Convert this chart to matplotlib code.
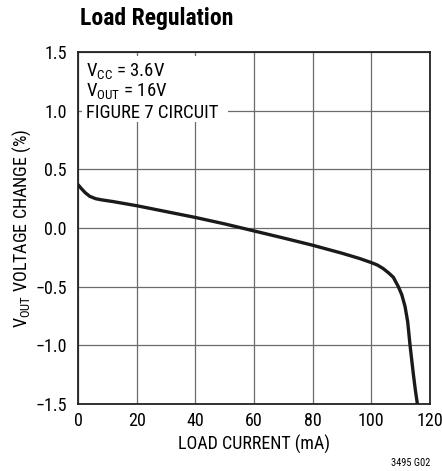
import matplotlib.pyplot as plt

# curve
load_ma = [0, 1, 2.5, 4, 6, 8, 12, 20, 30, 40, 50, 60, 70, 80, 90, 96, 100, 102, 104,
           106, 107.5, 109.2, 110.4, 111.5, 112.4, 113.2, 114.3, 115.0, 115.7]
vout_change = [0.37, 0.34, 0.30, 0.27, 0.25, 0.24, 0.225, 0.19, 0.14, 0.09, 0.035,
               -0.025, -0.085, -0.147, -0.215, -0.26, -0.295, -0.315, -0.345,
               -0.385, -0.42, -0.5, -0.57, -0.67, -0.8, -1.0, -1.24, -1.38, -1.5]

xticks = [0, 20, 40, 60, 80, 100, 120]
yticks = [-1.5, -1.0, -0.5, 0.0, 0.5, 1.0, 1.5]
ytick_labels = ['\u22121.5', '\u22121.0', '\u22120.5', '0.0', '0.5', '1.0', '1.5']
notes = ['V$_{\\mathregular{CC}}$ = 3.6V', 'V$_{\\mathregular{OUT}}$ = 16V', 'FIGURE 7 CIRCUIT']

plt.rcParams['font.family'] = ['Roboto Condensed', 'DejaVu Sans']

W, H = 442, 471
fig = plt.figure(figsize=(W / 100, H / 100), dpi=100)
ax = fig.add_axes([78 / W, 1 - 404 / H, 352 / W, 352 / H])

ax.plot(load_ma, vout_change, color='#1a1a1a', linewidth=2.4, solid_capstyle='butt', zorder=3)

ax.set_xlim(0, 120)
ax.set_ylim(-1.5, 1.5)
ax.set_xticks(xticks)
ax.set_yticks(yticks)
ax.set_yticklabels(ytick_labels)
ax.tick_params(length=0, labelsize=13)
ax.tick_params(axis='y', pad=8)
ax.tick_params(axis='x', pad=6)
ax.grid(True, color='#6a6a6a', linewidth=0.9)
ax.set_axisbelow(True)
for s in ax.spines.values():
    s.set_linewidth(1.3)
    s.set_color('#222222')

ax.set_xlabel('LOAD CURRENT (mA)', fontsize=13, labelpad=3)
ax.set_ylabel('V$_{\\mathregular{OUT}}$ VOLTAGE CHANGE (%)', fontsize=13, labelpad=2)

# white patch behind the notes hides the grid there
ax.axvspan(1.5, 51, ymin=0.8, ymax=0.99, facecolor='white', edgecolor='none', zorder=1)
for i, (s, base) in enumerate(zip(notes, [77, 97, 118])):
    fig.text(86 / W, 1 - base / H, s, fontsize=13.5, ha='left', va='baseline')

fig.text(80 / W, 1 - 19 / H, 'Load Regulation', fontsize=17, fontweight='bold',
         ha='left', va='center')
fig.text(430 / W, 1 - 463 / H, '3495 G02', fontsize=7.5, ha='right', va='center')

fig.savefig('out.png', dpi=100)
